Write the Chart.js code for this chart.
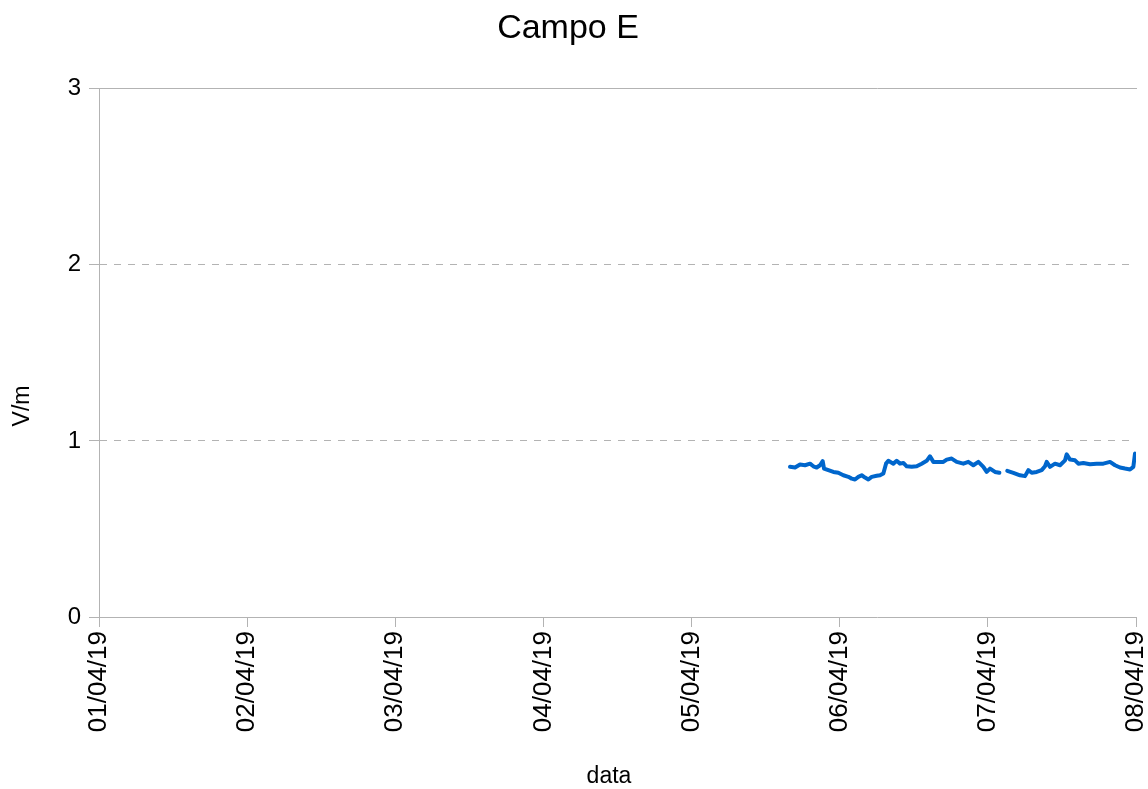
<!DOCTYPE html>
<html>
<head>
<meta charset="utf-8">
<script src="https://cdn.jsdelivr.net/npm/chart.js@4/dist/chart.umd.min.js"></script>
<style>
  html, body { margin: 0; padding: 0; background: #ffffff; }
  #wrap { width: 1148px; height: 789px; position: relative; }
</style>
</head>
<body>
<div id="wrap"><canvas id="c"></canvas></div>
<script>
// Hours since 01/04/19 00:00
const hours = [
  111.95, 112.76, 113.57, 114.38, 115.19, 115.73, 116.27, 116.81, 117.24, 117.46,
  118.16, 118.97, 119.78, 120.59, 121.40, 121.94, 122.48, 123.02, 123.56, 124.10,
  124.64, 125.18, 125.99, 126.53, 127.07, 127.50, 127.88, 128.69, 129.23, 129.77,
  130.31, 130.85, 131.66, 132.47, 133.28, 134.09, 134.63, 135.17, 135.98, 136.79,
  137.33, 138.14, 138.95, 140.03, 140.84, 141.65, 142.46, 143.27, 143.81, 144.35,
  145.16, 145.86, 146.50, 147.15, 148.13, 149.21, 150.02, 150.56, 151.10, 151.91,
  152.72, 153.26, 153.53, 154.07, 154.88, 155.69, 156.50, 156.77, 157.31, 158.12,
  158.66, 159.47, 160.55, 161.63, 162.71, 163.79, 164.60, 165.41, 166.22, 167.03,
  167.57, 167.84
];
// Campo E (V/m); null = gap in the record
const campoE = [
  0.853, 0.849, 0.866, 0.862, 0.871, 0.856, 0.849, 0.862, 0.885, 0.843,
  0.834, 0.824, 0.819, 0.805, 0.796, 0.786, 0.781, 0.796, 0.805, 0.792,
  0.781, 0.796, 0.802, 0.805, 0.815, 0.871, 0.887, 0.871, 0.887, 0.871,
  0.875, 0.856, 0.853, 0.856, 0.871, 0.887, 0.913, 0.881, 0.881, 0.881,
  0.894, 0.900, 0.881, 0.871, 0.881, 0.862, 0.881, 0.853, 0.824, 0.843,
  0.824, 0.819, null,  0.830, 0.819, 0.805, 0.800, 0.834, 0.819, 0.824,
  0.834, 0.856, 0.881, 0.853, 0.871, 0.862, 0.890, 0.924, 0.894, 0.890,
  0.871, 0.875, 0.868, 0.871, 0.871, 0.881, 0.862, 0.849, 0.843, 0.838,
  0.853, 0.928
];
const xTickLabels = ['01/04/19','02/04/19','03/04/19','04/04/19','05/04/19','06/04/19','07/04/19','08/04/19'];
const yTickValues = [0, 1, 2, 3];
const xTitle = 'data';
const yTitle = 'V/m';

const FONT = "'Liberation Sans', Arial, sans-serif";
const GRID = '#b3b3b3';

const points = hours.map((h, i) => ({ x: h, y: campoE[i] }));

// Axis titles drawn at the positions LibreOffice uses (not centred on the plot)
const axisTitles = {
  id: 'axisTitles',
  afterDraw(chart) {
    const ctx = chart.ctx;
    ctx.save();
    ctx.fillStyle = '#000000';
    ctx.font = '23px ' + FONT;
    ctx.textAlign = 'center';
    ctx.textBaseline = 'middle';
    ctx.fillText(xTitle, 609, 777);
    ctx.translate(23, 406);
    ctx.rotate(-Math.PI / 2);
    ctx.fillText(yTitle, 0, 0);
    ctx.restore();
  }
};

new Chart(document.getElementById('c'), {
  type: 'line',
  data: {
    datasets: [{
      label: 'Campo E',
      data: points,
      borderColor: '#0066cc',
      backgroundColor: '#0066cc',
      borderWidth: 4,
      pointRadius: 0,
      tension: 0,
      spanGaps: false,
      borderJoinStyle: 'round',
      borderCapStyle: 'round'
    }]
  },
  plugins: [axisTitles],
  options: {
    responsive: true,
    maintainAspectRatio: false,
    animation: false,
    devicePixelRatio: 1,
    layout: { padding: { left: 0, right: 12, top: 0, bottom: 0 } },
    plugins: {
      legend: { display: false },
      tooltip: { enabled: false },
      title: {
        display: true,
        text: 'Campo E',
        color: '#000000',
        font: { family: FONT, size: 34, weight: 'normal', lineHeight: 1.2 },
        padding: { top: 8, bottom: 40 }
      }
    },
    scales: {
      x: {
        type: 'linear',
        position: 'bottom',
        min: 0,
        max: 168,
        afterBuildTicks: (axis) => { axis.ticks = xTickLabels.map((_, i) => ({ value: i * 24 })); },
        ticks: {
          autoSkip: false,
          minRotation: 90,
          maxRotation: 90,
          color: '#000000',
          padding: 4,
          font: { family: FONT, size: 26 },
          callback: (v) => xTickLabels[Math.round(v / 24)]
        },
        grid: { drawOnChartArea: false, drawTicks: true, tickLength: 10, tickColor: GRID, color: GRID },
        border: { display: true, color: GRID, width: 1 },
        title: { display: false },
        afterFit: (axis) => { axis.height = 172; axis.paddingLeft = 0; axis.paddingRight = 0; }
      },
      x2: {
        type: 'linear',
        position: 'top',
        min: 0,
        max: 168,
        ticks: { display: false },
        grid: { display: false, drawTicks: false },
        border: { display: true, color: GRID, width: 1 },
        afterFit: (axis) => { axis.height = 0; axis.paddingLeft = 0; axis.paddingRight = 0; }
      },
      y: {
        type: 'linear',
        min: 0,
        max: 3,
        afterBuildTicks: (axis) => { axis.ticks = yTickValues.map(v => ({ value: v })); },
        ticks: {
          color: '#000000',
          padding: 8,
          font: { family: FONT, size: 24 },
          callback: (v) => String(v)
        },
        grid: { color: GRID, lineWidth: 1, drawTicks: true, tickLength: 10, tickColor: GRID },
        border: { display: true, color: GRID, width: 1, dash: [7, 7] },
        title: { display: false },
        afterFit: (axis) => { axis.width = 99; axis.paddingTop = 0; axis.paddingBottom = 0; }
      }
    }
  }
});
</script>
</body>
</html>
